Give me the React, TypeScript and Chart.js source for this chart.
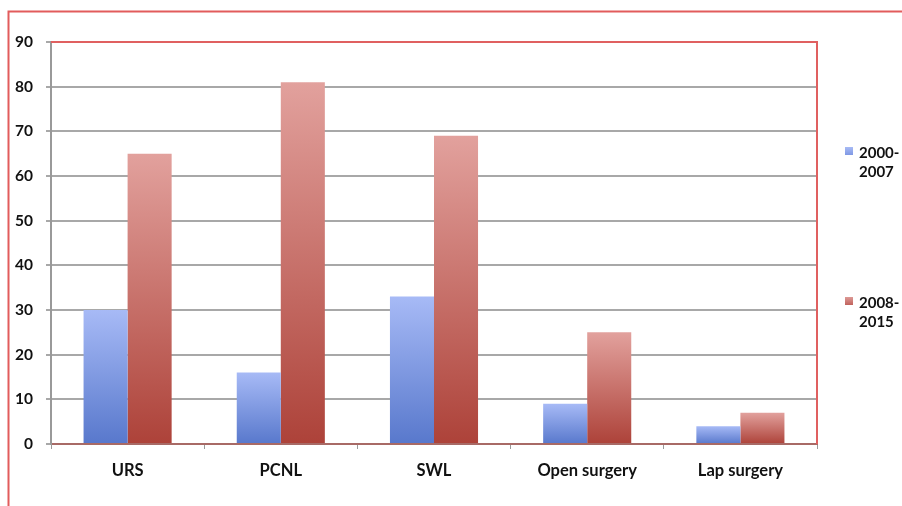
import React, { useEffect, useRef } from "react";
import { Chart, registerables } from "chart.js";

Chart.register(...registerables);

const categories = ["URS", "PCNL", "SWL", "Open surgery", "Lap surgery"];
const seriesNames = ["2000-2007", "2008-2015"];
const series2000_2007 = [30, 16, 33, 9, 4];
const series2008_2015 = [65, 81, 69, 25, 7];
const yTicks = [0, 10, 20, 30, 40, 50, 60, 70, 80, 90];

const FONT = "Lato, 'Open Sans', 'Liberation Sans', sans-serif";

const gradientFor = (topColor: string, bottomColor: string, flat: string) => (ctx: any) => {
  const chart = ctx.chart;
  const y = chart.scales && chart.scales.y;
  if (!chart.chartArea || !y || ctx.type !== "data") return flat;
  const top = y.getPixelForValue(ctx.raw);
  const bottom = y.getPixelForValue(0);
  if (!isFinite(top) || !isFinite(bottom) || top === bottom) return flat;
  const g = chart.ctx.createLinearGradient(0, top, 0, bottom);
  g.addColorStop(0, topColor);
  g.addColorStop(1, bottomColor);
  return g;
};

const framePlugin = {
  id: "frame",
  beforeDraw(chart: any) {
    const c = chart.ctx;
    c.save();
    c.strokeStyle = "#e25c5c";
    c.lineWidth = 2;
    c.beginPath();
    c.moveTo(902, 11.5);
    c.lineTo(8.5, 11.5);
    c.lineTo(8.5, 506);
    c.stroke();
    c.restore();
  },
  afterDraw(chart: any) {
    const c = chart.ctx;
    const a = chart.chartArea;
    c.save();
    c.strokeStyle = "#e06060";
    c.lineWidth = 2;
    c.beginPath();
    c.moveTo(a.left, a.top);
    c.lineTo(a.right, a.top);
    c.lineTo(a.right, a.bottom);
    c.stroke();
    // legend
    const items = [
      { color: "#7f98e4", y: 147 },
      { color: "#c0625c", y: 297 },
    ];
    c.font = `bold 15px ${FONT}`;
    c.fillStyle = "#111";
    c.textBaseline = "top";
    chart.data.datasets.forEach((ds: any, i: number) => {
      const it = items[i];
      const lg = c.createLinearGradient(0, it.y, 0, it.y + 8);
      lg.addColorStop(0, i === 0 ? "#a8bbf5" : "#dd9a96");
      lg.addColorStop(1, it.color);
      c.fillStyle = lg;
      c.fillRect(845, it.y, 8, 8);
      c.fillStyle = "#111";
      const label: string = ds.label;
      const idx = label.indexOf("-");
      const lines = [label.slice(0, idx + 1), label.slice(idx + 1)];
      lines.forEach((ln, k) => c.fillText(ln, 859, it.y - 1 + k * 19));
    });
    c.restore();
  },
};

export default function App() {
  const ref = useRef<HTMLCanvasElement>(null);
  useEffect(() => {
    if (!ref.current) return;
    const chart = new Chart(ref.current, {
      type: "bar",
      data: {
        labels: categories,
        datasets: [
          {
            label: seriesNames[0],
            data: series2000_2007,
            backgroundColor: gradientFor("#a7baf6", "#5878cc", "#7f98e4"),
            borderWidth: 0,
          },
          {
            label: seriesNames[1],
            data: series2008_2015,
            backgroundColor: gradientFor("#e2a19d", "#ad4239", "#c0625c"),
            borderWidth: 0,
          },
        ],
      },
      options: {
        responsive: false,
        animation: false,
        devicePixelRatio: 1,
        layout: { padding: { left: 0, top: 42, right: 85, bottom: 0 } },
        datasets: { bar: { barPercentage: 1, categoryPercentage: 0.575 } },
        plugins: { legend: { display: false }, tooltip: { enabled: false } },
        scales: {
          x: {
            offset: true,
            grid: {
              display: true,
              offset: true,
              drawOnChartArea: false,
              drawTicks: true,
              tickLength: 5,
              color: "#9a9a9a",
            },
            border: { display: true, color: "#a86a66", width: 2 },
            ticks: {
              color: "#111",
              font: { family: FONT, size: 16.5, weight: "bold" },
              padding: 12,
              maxRotation: 0,
            },
            afterFit: (s: any) => {
              s.height = 62;
            },
          },
          y: {
            min: 0,
            max: 90,
            afterBuildTicks: (s: any) => {
              s.ticks = yTicks.map((v) => ({ value: v }));
            },
            grid: {
              color: "#a8a8a8",
              lineWidth: 2,
              drawTicks: true,
              tickLength: 5,
            },
            border: { display: true, color: "#999", width: 2 },
            ticks: {
              color: "#111",
              font: { family: FONT, size: 15.5, weight: "bold" },
              padding: 13,
            },
            afterFit: (s: any) => {
              s.width = 51;
            },
          },
        },
      },
      plugins: [framePlugin],
    });
    return () => chart.destroy();
  }, []);
  return (
    <div style={{ position: "fixed", left: 0, top: 0, width: 902, height: 506, background: "#fff" }}>
      <canvas ref={ref} width={902} height={506} />
    </div>
  );
}
